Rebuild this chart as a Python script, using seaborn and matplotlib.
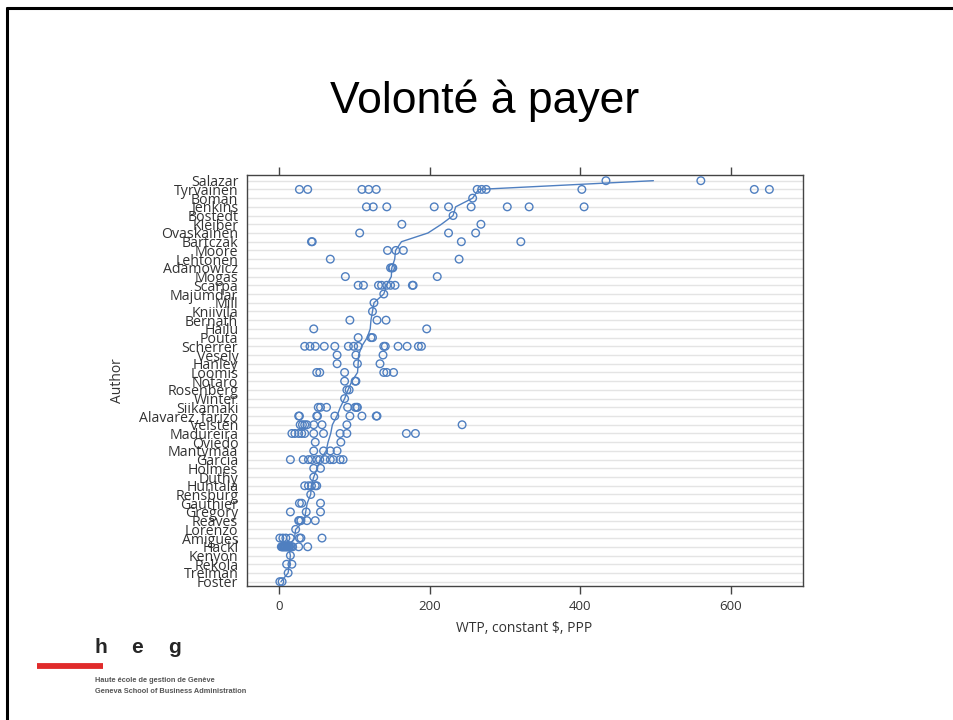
import numpy as np
import pandas as pd
import matplotlib
matplotlib.use("Agg")
import matplotlib.pyplot as plt
from matplotlib.lines import Line2D
import seaborn as sns

# %% data
authors = ["Salazar", "Tyrvainen", "Boman", "Jenkins", "Bostedt", "Kleiber",
           "Ovaskainen", "Bartczak", "Moore", "Lehtonen", "Adamowicz", "Mogas",
           "Scarpa", "Majumdar", "Mill", "Kniivila", "Bernath", "Hailu", "Pouta",
           "Scherrer", "Vesely", "Hanley", "Loomis", "Notaro", "Rosenberg",
           "Winter", "Siikamaki", "Alavarez_farizo", "Veisten", "Madureira",
           "Oviedo", "Mantymaa", "Garcia", "Holmes", "Duthy", "Huhtala",
           "Rensburg", "Gauthier", "Gregory", "Reaves", "Lorenzo", "Amigues",
           "Hackl", "Kenyon", "Rekola", "Treiman", "Foster"]

wtp = [
    [434, 560],
    [27, 38, 110, 119, 129, 263, 269, 275, 402, 631, 651],
    [257],
    [116, 125, 143, 206, 225, 255, 303, 332, 405],
    [231],
    [163, 268],
    [107, 225, 261],
    [43, 44, 242, 321],
    [144, 155, 165],
    [68, 239],
    [148, 150, 151],
    [88, 210],
    [105, 112, 132, 136, 143, 148, 154, 177, 178],
    [139],
    [126],
    [124],
    [94, 130, 142],
    [46, 196],
    [105, 122, 124],
    [34, 41, 48, 60, 74, 92, 99, 105, 139, 141, 158, 170, 185, 189],
    [77, 102, 138],
    [77, 104, 134],
    [50, 54, 87, 139, 143, 152],
    [87, 101, 102],
    [90, 93],
    [87],
    [52, 55, 63, 91, 101, 103, 104],
    [26, 27, 50, 51, 74, 94, 110, 129, 130],
    [28, 31, 34, 37, 46, 57, 90, 243],
    [17, 21, 26, 30, 34, 46, 59, 81, 90, 169, 181],
    [48, 82],
    [46, 59, 68, 77],
    [15, 32, 39, 43, 50, 54, 61, 68, 72, 81, 85],
    [46, 55],
    [46],
    [34, 39, 43, 48, 50],
    [42],
    [27, 30, 55],
    [15, 36, 55],
    [26, 27, 29, 37, 48],
    [22],
    [1, 5, 9, 15, 27, 29, 57],
    [3, 4, 5, 6, 7, 8, 9, 10, 11, 12, 13, 14, 16, 18, 26, 38],
    [15],
    [10, 17],
    [12],
    [1, 4],
]

x_ticks = [0, 200, 400, 600]
title = "Volonté à payer"

# %% long table
rows = []
for i, (a, vals) in enumerate(zip(authors, wtp)):
    for v in vals:
        rows.append({"Author": a, "row": i, "WTP": v})
df = pd.DataFrame(rows)

blue = "#4f7fc0"

# %% plot
sns.set_theme(style="white")
plt.rcParams["font.family"] = ["Open Sans", "DejaVu Sans"]

fig = plt.figure(figsize=(9.54, 7.2), dpi=100)
ax = fig.add_axes([0.2586, 0.1861, 0.5826, 0.5708])

for i in range(len(authors)):
    ax.axhline(i, color="#e4e4e4", lw=1.0, zorder=0)

sns.lineplot(data=df, x="WTP", y="row", orient="y", estimator="mean",
             errorbar=None, color=blue, lw=1.0, ax=ax, zorder=2)
sns.scatterplot(data=df, x="WTP", y="row", ax=ax, marker="o",
                facecolor="none", edgecolor=blue, linewidth=1.0, s=30,
                zorder=3)

ax.set_xlim(-43, 695)
ax.set_ylim(46.5, -0.65)
ax.set_xticks(x_ticks)
ax.set_xticklabels([str(t) for t in x_ticks])
ax.set_yticks(range(len(authors)))
ax.set_yticklabels(authors)
ax.tick_params(axis="x", which="both", bottom=True, top=True, length=6,
               width=1, color="#444444", labelsize=9.5, labelcolor="#333333",
               direction="out", pad=4)
ax.tick_params(axis="y", length=0, labelsize=10.2, labelcolor="#333333", pad=6)
ax.set_xlabel("WTP, constant $, PPP", fontsize=10, color="#333333", labelpad=6)
ax.set_ylabel("Author", fontsize=10, color="#333333", labelpad=10)
for sp in ax.spines.values():
    sp.set_color("#444444")
    sp.set_linewidth(1.0)

# slide title
fig.text(0.5084, 0.8426, title, ha="center", va="baseline", fontsize=32,
         family=["Liberation Sans", "DejaVu Sans"], color="black")

# slide frame (top and left)
fig.add_artist(Line2D([7 / 954, 1], [1 - 8 / 720, 1 - 8 / 720], color="black",
                      lw=2.2, transform=fig.transFigure))
fig.add_artist(Line2D([7 / 954, 7 / 954], [0, 1 - 8 / 720], color="black",
                      lw=2.2, transform=fig.transFigure))

# heg logo
for letter, lx in zip(["h", "e", "g"], [95, 131, 168]):
    fig.text(lx / 954, 1 - 653 / 720, letter, fontsize=15, fontweight="bold",
             family=["Liberation Sans", "DejaVu Sans"], ha="left", va="baseline")
fig.add_artist(Line2D([37 / 954, 103 / 954], [1 - 665.5 / 720, 1 - 665.5 / 720],
                      color="#e02b2b", lw=4.2, solid_capstyle="butt",
                      transform=fig.transFigure))
fig.text(95 / 954, 1 - 682 / 720, "Haute école de gestion de Genève",
         fontsize=5.3, fontweight="bold", color="#555555",
         family=["Liberation Sans", "DejaVu Sans"], va="baseline")
fig.text(95 / 954, 1 - 693 / 720, "Geneva School of Business Administration",
         fontsize=5.3, fontweight="bold", color="#555555",
         family=["Liberation Sans", "DejaVu Sans"], va="baseline")

fig.savefig("out.png", dpi=100)
